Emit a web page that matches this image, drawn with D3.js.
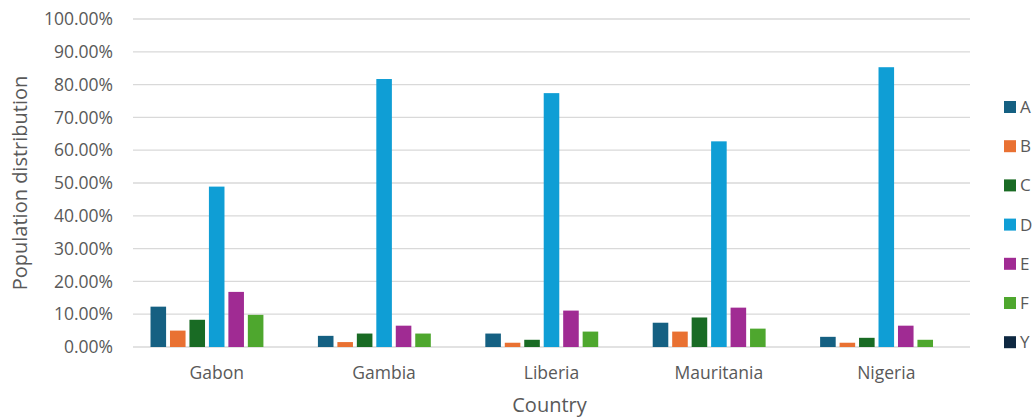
<!DOCTYPE html>
<html>
<head>
<meta charset="utf-8">
<script src="https://cdn.jsdelivr.net/npm/d3@7"></script>
<style>
  body { margin: 0; background: #fff; }
  text { font-family: "Open Sans", Lato, sans-serif; fill: #595959; }
</style>
</head>
<body>
<div id="chart"></div>
<script>
// datos
const countries = ["Gabon", "Gambia", "Liberia", "Mauritania", "Nigeria"];
const seriesNames = ["A", "B", "C", "D", "E", "F", "Y"];
const A = [0.123, 0.034, 0.041, 0.074, 0.031];
const B = [0.050, 0.015, 0.013, 0.047, 0.013];
const C = [0.083, 0.041, 0.022, 0.090, 0.028];
const D = [0.489, 0.817, 0.774, 0.627, 0.853];
const E = [0.168, 0.065, 0.111, 0.120, 0.065];
const F = [0.098, 0.041, 0.047, 0.056, 0.022];
const Y = [0, 0, 0, 0, 0];
const yTicks = [0, 0.1, 0.2, 0.3, 0.4, 0.5, 0.6, 0.7, 0.8, 0.9, 1.0];
const colors = ["#156082", "#E97132", "#196B24", "#0F9ED5", "#A02B93", "#4EA72E", "#0E2841"];

const seriesValues = [A, B, C, D, E, F, Y];

const W = 1033, H = 418;
const margin = {top: 19, right: 63, bottom: 71, left: 133};
const width = W - margin.left - margin.right;
const height = H - margin.top - margin.bottom;

const svg = d3.select("#chart").append("svg")
    .attr("width", W)
    .attr("height", H);

const g = svg.append("g")
    .attr("transform", `translate(${margin.left},${margin.top})`);

const x = d3.scaleBand()
    .domain(countries)
    .range([0, width]);

const x1 = d3.scaleBand()
    .domain(seriesNames)
    .range([0, x.bandwidth()])
    .paddingInner(0.2)
    .paddingOuter(0.9);

const y = d3.scaleLinear()
    .domain([0, 1])
    .range([height, 0]);

// lineas de la cuadricula
g.selectAll(".grid")
    .data(yTicks)
    .enter()
    .append("line")
    .attr("x1", 0)
    .attr("x2", width)
    .attr("y1", d => y(d))
    .attr("y2", d => y(d))
    .attr("stroke", "#d9d9d9")
    .attr("stroke-width", 1.3);

// etiquetas eje Y
const yAxis = g.append("g")
    .call(d3.axisLeft(y).tickValues(yTicks).tickSize(0).tickPadding(20)
        .tickFormat(d => (d * 100).toFixed(2) + "%"));
yAxis.select(".domain").remove();
yAxis.selectAll("text")
    .style("font-size", "17.5px")
    .attr("fill", "#595959");

// etiquetas eje X
const xAxis = g.append("g")
    .attr("transform", `translate(0,${height})`)
    .call(d3.axisBottom(x).tickSize(0).tickPadding(20));
xAxis.select(".domain").remove();
xAxis.selectAll("text")
    .style("font-size", "17.5px")
    .attr("fill", "#595959");

// barras
seriesNames.forEach((s, i) => {
    g.selectAll(".bar-" + s)
        .data(countries.map((c, j) => ({country: c, value: seriesValues[i][j]})))
        .enter()
        .append("rect")
        .attr("class", "bar-" + s)
        .attr("x", d => x(d.country) + x1(s))
        .attr("y", d => y(d.value))
        .attr("width", x1.bandwidth())
        .attr("height", d => height - y(d.value))
        .attr("fill", colors[i]);
});

// titulos
svg.append("text")
    .attr("x", margin.left + width / 2 - 2)
    .attr("y", 412)
    .attr("text-anchor", "middle")
    .style("font-size", "20px")
    .text("Country");

svg.append("text")
    .attr("transform", `translate(27,${margin.top + height / 2}) rotate(-90)`)
    .attr("text-anchor", "middle")
    .style("font-size", "20px")
    .text("Population distribution");

// leyenda
const legend = svg.append("g")
    .attr("transform", "translate(1004,101)");

seriesNames.forEach((s, i) => {
    legend.append("rect")
        .attr("x", 0)
        .attr("y", i * 39.2)
        .attr("width", 12)
        .attr("height", 12)
        .attr("fill", colors[i]);
    legend.append("text")
        .attr("x", 16)
        .attr("y", i * 39.2 + 6)
        .attr("dy", "0.35em")
        .style("font-size", "17px")
        .text(s);
});
</script>
</body>
</html>
